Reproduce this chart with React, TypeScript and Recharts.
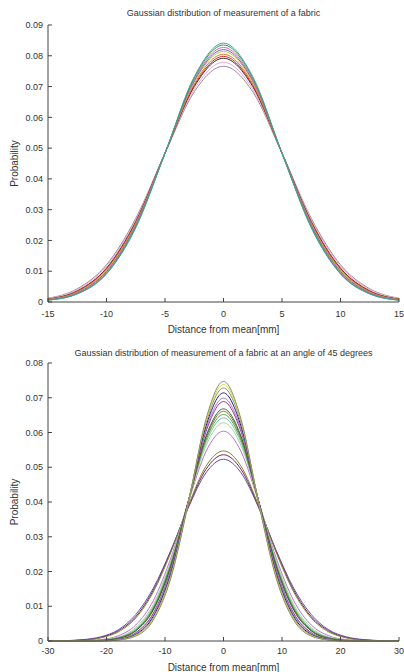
import { LineChart, Line, XAxis, YAxis } from "recharts";

const FONT = '"Liberation Sans", Arial, sans-serif';
const INK = "#333";
const AXIS = "#444";

// ---- top panel: straight measurement ----
const topX = [-15, -12.5, -10, -7.5, -5, -2.5, 0, 2.5, 5, 7.5, 10, 12.5, 15];
const topTicksX = [-15, -10, -5, 0, 5, 10, 15];
const topTicksY = [0, 0.01, 0.02, 0.03, 0.04, 0.05, 0.06, 0.07, 0.08, 0.09];

const top1 = [0.0006, 0.0026, 0.0091, 0.0241, 0.0483, 0.0732, 0.0841, 0.0732, 0.0483, 0.0241, 0.0091, 0.0026, 0.0006];
const top2 = [0.0006, 0.0027, 0.0093, 0.0244, 0.0483, 0.0728, 0.0835, 0.0728, 0.0483, 0.0244, 0.0093, 0.0027, 0.0006];
const top3 = [0.0007, 0.0029, 0.0096, 0.0247, 0.0483, 0.0723, 0.0827, 0.0723, 0.0483, 0.0247, 0.0096, 0.0029, 0.0007];
const top4 = [0.0007, 0.003, 0.0099, 0.025, 0.0484, 0.0719, 0.082, 0.0719, 0.0484, 0.025, 0.0099, 0.003, 0.0007];
const top5 = [0.0008, 0.0031, 0.0102, 0.0252, 0.0484, 0.0715, 0.0814, 0.0715, 0.0484, 0.0252, 0.0102, 0.0031, 0.0008];
const top6 = [0.0008, 0.0033, 0.0105, 0.0256, 0.0484, 0.0709, 0.0805, 0.0709, 0.0484, 0.0256, 0.0105, 0.0033, 0.0008];
const top7 = [0.0009, 0.0035, 0.0108, 0.0259, 0.0484, 0.0704, 0.0798, 0.0704, 0.0484, 0.0259, 0.0108, 0.0035, 0.0009];
const top8 = [0.0009, 0.0036, 0.011, 0.0261, 0.0484, 0.07, 0.0792, 0.07, 0.0484, 0.0261, 0.011, 0.0036, 0.0009];
const top9 = [0.0011, 0.004, 0.0116, 0.0267, 0.0484, 0.0691, 0.0779, 0.0691, 0.0484, 0.0267, 0.0116, 0.004, 0.0011];
const top10 = [0.0012, 0.0043, 0.0121, 0.0272, 0.0483, 0.0683, 0.0766, 0.0683, 0.0483, 0.0272, 0.0121, 0.0043, 0.0012];

const topSeries = [top10, top9, top8, top7, top6, top5, top4, top3, top2, top1];
const topColors = ["#9a86a0", "#e8a8c8", "#2a2a2a", "#d42a2a", "#e8702a", "#b8c834", "#6a62b8", "#d868b8", "#3a9a3a", "#3aa4a4"];

// ---- bottom panel: 45 degree measurement ----
const bottomX = [-30, -27, -24, -21, -18, -15, -12, -9, -6, -3, 0, 3, 6, 9, 12, 15, 18, 21, 24, 27, 30];
const bottomTicksX = [-30, -20, -10, 0, 10, 20, 30];
const bottomTicksY = [0, 0.01, 0.02, 0.03, 0.04, 0.05, 0.06, 0.07, 0.08];

const bot1 = [0, 0, 0, 0, 0.0003, 0.0014, 0.006, 0.0181, 0.0397, 0.0638, 0.0747, 0.0638, 0.0397, 0.0181, 0.006, 0.0014, 0.0003, 0, 0, 0, 0];
const bot2 = [0, 0, 0, 0, 0.0003, 0.0016, 0.0063, 0.0185, 0.0399, 0.0633, 0.0738, 0.0633, 0.0399, 0.0185, 0.0063, 0.0016, 0.0003, 0, 0, 0, 0];
const bot3 = [0, 0, 0, 0, 0.0003, 0.0017, 0.0066, 0.0189, 0.04, 0.0627, 0.0728, 0.0627, 0.04, 0.0189, 0.0066, 0.0017, 0.0003, 0, 0, 0, 0];
const bot4 = [0, 0, 0, 0.0001, 0.0004, 0.0019, 0.0071, 0.0195, 0.0401, 0.0618, 0.0714, 0.0618, 0.0401, 0.0195, 0.0071, 0.0019, 0.0004, 0.0001, 0, 0, 0];
const bot5 = [0, 0, 0, 0.0001, 0.0005, 0.0022, 0.0077, 0.0202, 0.0402, 0.0609, 0.0699, 0.0609, 0.0402, 0.0202, 0.0077, 0.0022, 0.0005, 0.0001, 0, 0, 0];
const bot6 = [0, 0, 0, 0.0001, 0.0005, 0.0024, 0.008, 0.0206, 0.0403, 0.0602, 0.0689, 0.0602, 0.0403, 0.0206, 0.008, 0.0024, 0.0005, 0.0001, 0, 0, 0];
const bot7 = [0, 0, 0, 0.0001, 0.0007, 0.0029, 0.0089, 0.0215, 0.0403, 0.0589, 0.0668, 0.0589, 0.0403, 0.0215, 0.0089, 0.0029, 0.0007, 0.0001, 0, 0, 0];
const bot8 = [0, 0, 0, 0.0002, 0.0008, 0.003, 0.0092, 0.0217, 0.0403, 0.0584, 0.0661, 0.0584, 0.0403, 0.0217, 0.0092, 0.003, 0.0008, 0.0002, 0, 0, 0];
const bot9 = [0, 0, 0, 0.0002, 0.0009, 0.0032, 0.0095, 0.0221, 0.0403, 0.0578, 0.0652, 0.0578, 0.0403, 0.0221, 0.0095, 0.0032, 0.0009, 0.0002, 0, 0, 0];
const bot10 = [0, 0, 0, 0.0002, 0.001, 0.0035, 0.0099, 0.0225, 0.0403, 0.0571, 0.0642, 0.0571, 0.0403, 0.0225, 0.0099, 0.0035, 0.001, 0.0002, 0, 0, 0];
const bot11 = [0, 0, 0, 0.0003, 0.0011, 0.0039, 0.0105, 0.023, 0.0402, 0.0562, 0.0628, 0.0562, 0.0402, 0.023, 0.0105, 0.0039, 0.0011, 0.0003, 0, 0, 0];
const bot12 = [0, 0, 0.0001, 0.0004, 0.0015, 0.0046, 0.0116, 0.0239, 0.04, 0.0545, 0.0604, 0.0545, 0.04, 0.0239, 0.0116, 0.0046, 0.0015, 0.0004, 0.0001, 0, 0];
const bot13 = [0, 0.0001, 0.0002, 0.0009, 0.0026, 0.0066, 0.0141, 0.0255, 0.039, 0.0503, 0.0547, 0.0503, 0.039, 0.0255, 0.0141, 0.0066, 0.0026, 0.0009, 0.0002, 0.0001, 0];
const bot14 = [0, 0.0001, 0.0003, 0.001, 0.0029, 0.007, 0.0146, 0.0258, 0.0387, 0.0494, 0.0536, 0.0494, 0.0387, 0.0258, 0.0146, 0.007, 0.0029, 0.001, 0.0003, 0.0001, 0];
const bot15 = [0, 0.0001, 0.0004, 0.0012, 0.0032, 0.0076, 0.0152, 0.0261, 0.0384, 0.0484, 0.0523, 0.0484, 0.0384, 0.0261, 0.0152, 0.0076, 0.0032, 0.0012, 0.0004, 0.0001, 0];

const bottomSeries = [bot15, bot14, bot13, bot12, bot11, bot10, bot9, bot8, bot7, bot6, bot5, bot4, bot3, bot2, bot1];
const bottomColors = ["#5a52b4", "#8c1a4c", "#7a8a3a", "#b874d4", "#a8d498", "#74c4a4", "#44a444", "#8a6a3a", "#2a6a2a", "#a42a8c", "#a474c4", "#1c1c8c", "#94943e", "#d4d454", "#8c8c6c"];

type Row = { [key: string]: number };

const toRows = (xs: number[], series: number[][]): Row[] =>
  xs.map((x, i) => {
    const row: Row = { x };
    series.forEach((s, j) => {
      row["s" + j] = s[i];
    });
    return row;
  });

const fmtY = (v: number) => (v === 0 ? "0" : v.toFixed(2));

type PanelProps = {
  title: string;
  xs: number[];
  series: number[][];
  colors: string[];
  xTicks: number[];
  yTicks: number[];
  top: number;
  marginTop: number;
  xAxisHeight: number;
  titleTop: number;
  tickGap: number;
  labelOffset: number;
};

const Panel = (p: PanelProps) => {
  const rows = toRows(p.xs, p.series);
  const xDomain = [p.xTicks[0], p.xTicks[p.xTicks.length - 1]];
  const yDomain = [0, p.yTicks[p.yTicks.length - 1]];
  const tickStyle = { fill: INK, fontSize: 9, fontFamily: FONT };

  return (
    <div style={{ position: "absolute", left: 0, top: p.top, width: 404, height: 336 }}>
      {/* Title */}
      <div
        style={{
          position: "absolute",
          left: 48,
          width: 351,
          top: p.titleTop,
          textAlign: "center",
          fontFamily: FONT,
          fontSize: 9,
          lineHeight: "11px",
          color: INK,
          whiteSpace: "nowrap",
        }}
      >
        {p.title}
      </div>

      <LineChart width={404} height={336} data={rows} margin={{ top: p.marginTop, right: 5, bottom: 0, left: 0 }}>
        <XAxis
          xAxisId="b"
          dataKey="x"
          type="number"
          domain={xDomain}
          ticks={p.xTicks}
          height={p.xAxisHeight}
          tickSize={-4}
          tickMargin={p.tickGap}
          stroke={AXIS}
          tick={tickStyle}
          label={{
            value: "Distance from mean[mm]",
            position: "insideBottom",
            offset: p.labelOffset,
            fill: INK,
            fontSize: 10,
            fontFamily: FONT,
          }}
        />
        {/* box: top edge */}
        <XAxis
          xAxisId="t"
          orientation="top"
          dataKey="x"
          type="number"
          domain={xDomain}
          ticks={p.xTicks}
          height={0}
          tickSize={-4}
          tick={false}
          stroke={AXIS}
        />
        <YAxis
          yAxisId="l"
          type="number"
          domain={yDomain}
          ticks={p.yTicks}
          width={48}
          tickSize={-4}
          tickMargin={9}
          tickFormatter={fmtY}
          stroke={AXIS}
          tick={tickStyle}
          label={{
            value: "Probability",
            angle: -90,
            position: "insideLeft",
            offset: 14,
            fill: INK,
            fontSize: 10,
            fontFamily: FONT,
            style: { textAnchor: "middle" },
          }}
        />
        {/* box: right edge */}
        <YAxis
          yAxisId="r"
          orientation="right"
          type="number"
          domain={yDomain}
          ticks={p.yTicks}
          width={0}
          tickSize={-4}
          tick={false}
          stroke={AXIS}
        />

        {p.series.map((_, j) => (
          <Line
            key={j}
            xAxisId="b"
            yAxisId="l"
            dataKey={"s" + j}
            type="monotone"
            stroke={p.colors[j]}
            strokeWidth={1}
            dot={false}
            isAnimationActive={false}
          />
        ))}
      </LineChart>
    </div>
  );
};

const App = () => (
  <div style={{ position: "absolute", left: 0, top: 0, width: 404, height: 672, background: "#fff" }}>
    <Panel
      title="Gaussian distribution of measurement of a fabric"
      xs={topX}
      series={topSeries}
      colors={topColors}
      xTicks={topTicksX}
      yTicks={topTicksY}
      top={0}
      marginTop={25}
      xAxisHeight={34}
      titleTop={8}
      tickGap={13}
      labelOffset={3.5}
    />
    <Panel
      title="Gaussian distribution of measurement of a fabric at an angle of 45 degrees"
      xs={bottomX}
      series={bottomSeries}
      colors={bottomColors}
      xTicks={bottomTicksX}
      yTicks={bottomTicksY}
      top={336}
      marginTop={27}
      xAxisHeight={31}
      titleTop={12}
      tickGap={10.5}
      labelOffset={1.5}
    />
  </div>
);

export default App;
